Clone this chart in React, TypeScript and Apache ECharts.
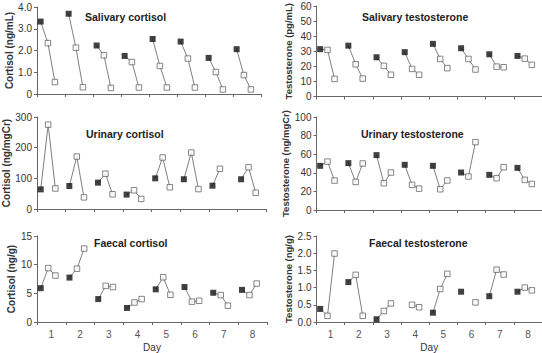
import React, { useEffect, useRef } from "react";
import * as echarts from "echarts";

// Days of the study
const days = ["1", "2", "3", "4", "5", "6", "7", "8"];

// Salivary cortisol (ng/mL): first (filled), second and third (open) samples per day
const salCortFirst = [3.33, 3.69, 2.23, 1.75, 2.53, 2.41, 1.66, 2.06];
const salCortSecond = [2.34, 2.13, 1.78, 1.47, 1.29, 1.63, 1.01, 0.87];
const salCortThird = [0.55, 0.31, 0.28, 0.3, 0.3, 0.3, 0.21, 0.21];

// Salivary testosterone (pg/mL)
const salTestFirst = [31.4, 33.7, 26, 29.4, 34.9, 32, 28, 26.9];
const salTestSecond = [30.9, 21.4, 20.3, 18.3, 24.9, 24.9, 19.8, 25.1];
const salTestThird = [11.7, 11.9, 14.4, 14.4, 18.8, 17.9, 19.4, 21];

// Urinary cortisol (ng/mgCr)
const uriCortFirst = [64, 75, 86, 47, 100, 97, 76, 97];
const uriCortSecond = [275, 171, 115, 61, 168, 184, 131, 136];
const uriCortThird: (number | null)[] = [67, 38, 48, 33, 71, 65, null, 53];

// Urinary testosterone (ng/mgCr)
const uriTestFirst = [47.5, 50.4, 59, 48.6, 47.5, 40.3, 37.8, 45.3];
const uriTestSecond = [52, 30.2, 28.8, 27, 22.3, 36, 34.2, 32.4];
const uriTestThird = [31.7, 50, 40.3, 23, 31.7, 73, 46, 28];

// Faecal cortisol (ng/g)
const faeCortFirst = [5.9, 7.75, 4.0, 2.45, 5.7, 6.1, 5.1, 5.6];
const faeCortSecond = [9.4, 9.3, 6.3, 3.4, 7.8, 3.55, 4.7, 4.7];
const faeCortThird = [8.1, 12.8, 6.1, 4.0, 4.75, 3.7, 2.85, 6.7];

// Faecal testosterone (ng/g)
const faeTestFirst: (number | null)[] = [0.38, 1.16, 0.08, null, 0.27, 0.88, 0.75, 0.88];
const faeTestSecond: (number | null)[] = [0.18, 1.37, 0.32, 0.5, 0.96, null, 1.52, 1.0];
const faeTestThird = [1.99, 0.18, 0.54, 0.43, 1.4, 0.57, 1.38, 0.92];

// Position of the three samples inside each day's slot
const sampleOffsets = [-0.37, -0.11, 0.14];

type Panel = {
  title: string;
  yName: string;
  min: number;
  max: number;
  interval: number;
  fmt: (v: number) => string;
  samples: (number | null)[][];
  grid: { left: number; top: number; width: number; height: number };
  titlePos: { left: number; top: number };
  showX: boolean;
  nameGap: number;
  nameSize: number;
};

const oneDec = (v: number) => (v === 0 ? "0" : v.toFixed(1));
const oneDecAll = (v: number) => v.toFixed(1);
const intFmt = (v: number) => String(Math.round(v));

const panels: Panel[] = [
  {
    title: "Salivary cortisol",
    yName: "Cortisol (ng/mL)",
    min: 0, max: 4, interval: 1, fmt: oneDec,
    samples: [salCortFirst, salCortSecond, salCortThird],
    grid: { left: 37, top: 7, width: 224, height: 87 },
    titlePos: { left: 85, top: 11 },
    showX: false, nameGap: 18, nameSize: 10,
  },
  {
    title: "Salivary testosterone",
    yName: "Testosterone (pg/mL)",
    min: 0, max: 60, interval: 10, fmt: intFmt,
    samples: [salTestFirst, salTestSecond, salTestThird],
    grid: { left: 316.5, top: 6, width: 229, height: 90.5 },
    titlePos: { left: 362, top: 11 },
    showX: false, nameGap: 23, nameSize: 9.5,
  },
  {
    title: "Urinary cortisol",
    yName: "Cortisol (ng/mgCr)",
    min: 0, max: 300, interval: 100, fmt: intFmt,
    samples: [uriCortFirst, uriCortSecond, uriCortThird],
    grid: { left: 37, top: 117, width: 229, height: 92 },
    titlePos: { left: 86, top: 128 },
    showX: false, nameGap: 18, nameSize: 10,
  },
  {
    title: "Urinary testosterone",
    yName: "Testosterone (ng/mgCr)",
    min: 0, max: 100, interval: 20, fmt: intFmt,
    samples: [uriTestFirst, uriTestSecond, uriTestThird],
    grid: { left: 316.5, top: 117, width: 229, height: 93 },
    titlePos: { left: 361, top: 128 },
    showX: false, nameGap: 23, nameSize: 9.5,
  },
  {
    title: "Faecal cortisol",
    yName: "Cortisol (ng/g)",
    min: 0, max: 15, interval: 5, fmt: intFmt,
    samples: [faeCortFirst, faeCortSecond, faeCortThird],
    grid: { left: 37, top: 236, width: 230, height: 91.5 },
    titlePos: { left: 94, top: 237 },
    showX: true, nameGap: 18, nameSize: 10,
  },
  {
    title: "Faecal testosterone",
    yName: "Testosterone (ng/g)",
    min: 0, max: 2.5, interval: 0.5, fmt: oneDecAll,
    samples: [faeTestFirst, faeTestSecond, faeTestThird],
    grid: { left: 316.5, top: 236, width: 229, height: 92 },
    titlePos: { left: 369, top: 237 },
    showX: true, nameGap: 23, nameSize: 9.5,
  },
];

const AXIS_COLOR = "#666";
const TEXT_COLOR = "#333";
const LINE_COLOR = "#808080";

function buildOption() {
  const grid: any[] = [];
  const xAxis: any[] = [];
  const yAxis: any[] = [];
  const title: any[] = [];
  const series: any[] = [];

  panels.forEach((p, i) => {
    grid.push({ ...p.grid });
    title.push({
      text: p.title,
      left: p.titlePos.left,
      top: p.titlePos.top,
      padding: 0,
      textStyle: { fontSize: 10.5, fontWeight: "bold", color: "#222" },
    });
    // category axis: ticks at day boundaries and day labels
    xAxis.push({
      type: "category",
      gridIndex: i,
      data: days,
      boundaryGap: true,
      axisLine: { show: true, lineStyle: { color: AXIS_COLOR, width: 1 } },
      axisTick: { show: true, length: 3, interval: 0, alignWithLabel: false, lineStyle: { color: AXIS_COLOR } },
      axisLabel: { show: p.showX, fontSize: 10, color: "#555", margin: 7, interval: 0 },
      splitLine: { show: false },
      name: p.showX ? "Day" : "",
      nameLocation: "middle",
      nameGap: 20,
      nameTextStyle: { fontSize: 10, color: TEXT_COLOR },
    });
    // value axis: positions of the samples within each day
    xAxis.push({
      type: "value",
      gridIndex: i,
      min: 0.5,
      max: 8.5,
      show: false,
    });
    yAxis.push({
      type: "value",
      gridIndex: i,
      min: p.min,
      max: p.max,
      interval: p.interval,
      axisLine: { show: true, lineStyle: { color: AXIS_COLOR, width: 1 } },
      axisTick: { show: true, length: 3, lineStyle: { color: AXIS_COLOR } },
      axisLabel: { fontSize: 10, color: TEXT_COLOR, margin: 5, formatter: p.fmt },
      splitLine: { show: false },
      name: p.yName,
      nameLocation: "middle",
      nameRotate: 90,
      nameGap: p.nameGap,
      nameTextStyle: { fontSize: p.nameSize, fontWeight: "bold", color: TEXT_COLOR },
    });

    const xIdx = 2 * i + 1;
    // connecting lines, one series per run of consecutive samples in a day
    days.forEach((_, d) => {
      let run: number[][] = [];
      const flush = () => {
        if (run.length >= 2) {
          series.push({
            type: "line",
            xAxisIndex: xIdx,
            yAxisIndex: i,
            data: run,
            symbol: "none",
            silent: true,
            z: 2,
            lineStyle: { color: LINE_COLOR, width: 1 },
          });
        }
        run = [];
      };
      p.samples.forEach((arr, s) => {
        const v = arr[d];
        if (v === null || v === undefined) {
          flush();
        } else {
          run.push([d + 1 + sampleOffsets[s], v]);
        }
      });
      flush();
    });

    const filled: number[][] = [];
    const open: number[][] = [];
    p.samples.forEach((arr, s) => {
      arr.forEach((v, d) => {
        if (v === null || v === undefined) return;
        const pt = [d + 1 + sampleOffsets[s], v];
        if (s === 0) filled.push(pt);
        else open.push(pt);
      });
    });
    series.push({
      type: "scatter",
      xAxisIndex: xIdx,
      yAxisIndex: i,
      data: open,
      symbol: "rect",
      symbolSize: 5.5,
      z: 3,
      itemStyle: { color: "#ffffff", borderColor: "#666", borderWidth: 1 },
    });
    series.push({
      type: "scatter",
      xAxisIndex: xIdx,
      yAxisIndex: i,
      data: filled,
      symbol: "rect",
      symbolSize: 6,
      z: 4,
      itemStyle: { color: "#111" },
    });
  });

  return {
    animation: false,
    backgroundColor: "#ffffff",
    textStyle: { fontFamily: "Liberation Sans, Arial, sans-serif" },
    title,
    grid,
    xAxis,
    yAxis,
    series,
  };
}

export default function App() {
  const ref = useRef<HTMLDivElement>(null);
  useEffect(() => {
    if (!ref.current) return;
    const chart = echarts.init(ref.current, undefined, { renderer: "svg" });
    chart.setOption(buildOption() as any);
    return () => chart.dispose();
  }, []);
  return (
    <div
      ref={ref}
      style={{ position: "fixed", left: 0, top: 0, width: 542, height: 353, background: "#fff" }}
    />
  );
}
